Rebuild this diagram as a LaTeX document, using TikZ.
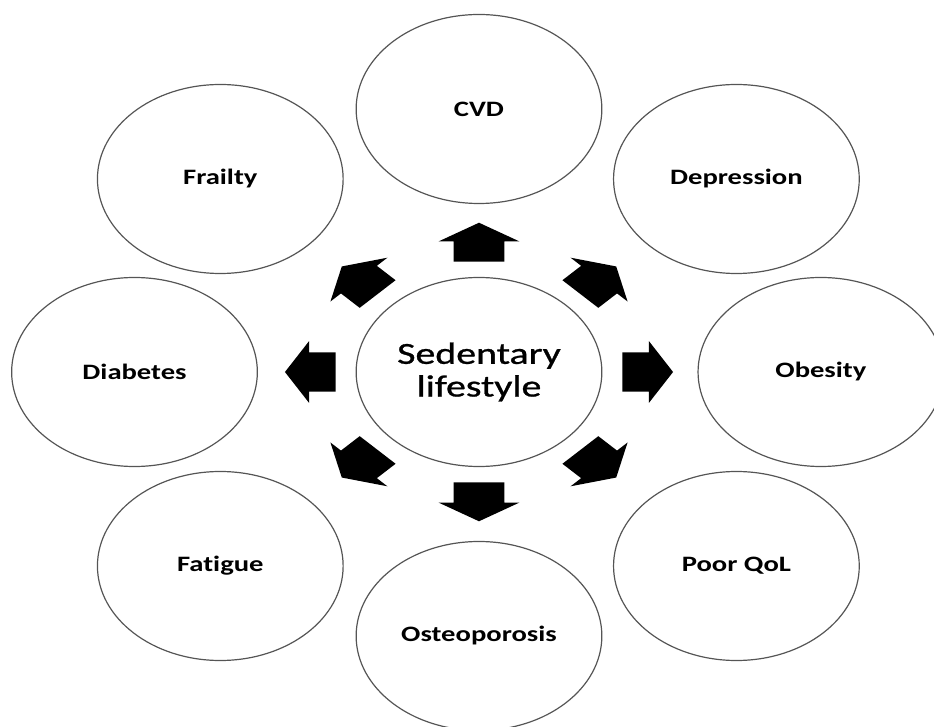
\documentclass[tikz,border=0pt]{standalone}
\usepackage{fontspec}
\setmainfont{Carlito}[Ligatures=NoCommon]
\newfontfamily\hubfont{Carlito}[Ligatures=NoCommon,FakeBold=0.8]
\usetikzlibrary{shapes.arrows}
\definecolor{rimgray}{HTML}{555555}
\tikzset{
  blob/.style={circle,draw=rimgray,line width=0.9pt,minimum size=141.75pt,inner sep=0pt,
    font=\fontsize{16.5}{20}\selectfont\bfseries},
  hub/.style={blob,align=center,font=\hubfont\fontsize{23}{24.5}\selectfont},
  fatarrow/.style={single arrow,fill=black,draw=none,inner xsep=0pt,inner ysep=14.44pt,
    minimum height=29.25pt,single arrow head extend=8.6pt,single arrow tip angle=118,anchor=tail}
}
\begin{document}
\begin{tikzpicture}[x=0.75pt,y=0.75pt]
\useasboundingbox (-479,-355) rectangle (455,372);
\begin{scope}[xscale=1.3,transform shape]
	\node[hub] (hub) at (0,0) {Sedentary\\lifestyle};
	\foreach \n/\px/\py/\txt in {cvd/0/263/CVD,depr/198/193/Depression,obes/263/0/Obesity,
		qol/198/-194/Poor QoL,osteo/0/-264/Osteoporosis,fatig/-199/-194/Fatigue,
		diab/-265/0/Diabetes,frail/-199/193/Frailty}
		\node[blob] (\n) at (\px,\py) {\txt};
	\foreach \a in {0,45,...,315}
		\node[fatarrow,rotate=\a] (arr\a) at (\a:110) {};
\end{scope}
\end{tikzpicture}
\end{document}
